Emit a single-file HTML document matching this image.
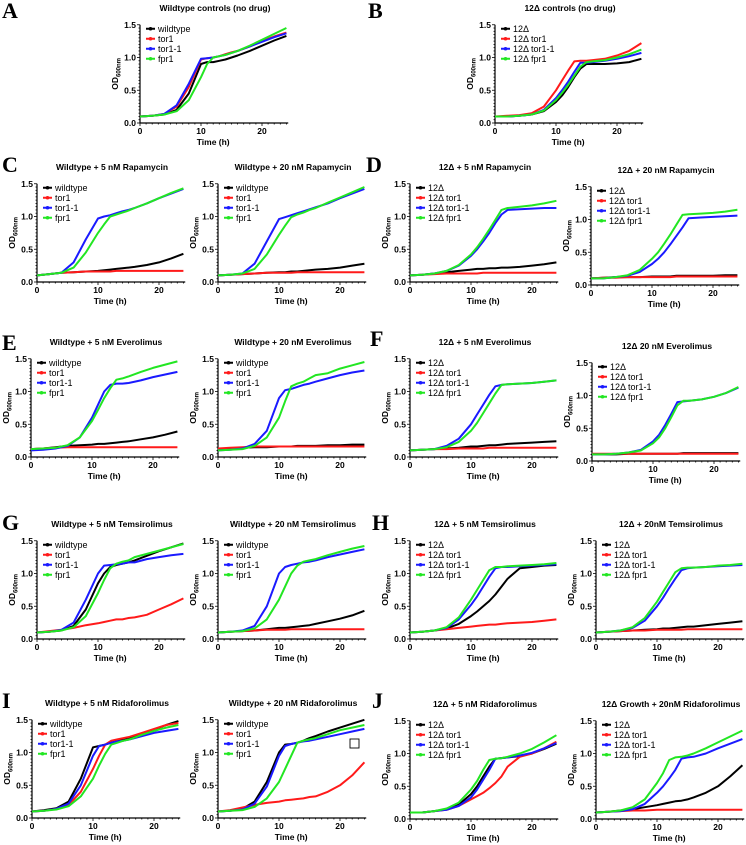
<!DOCTYPE html>
<html><head><meta charset="utf-8"><style>
html,body{margin:0;padding:0;background:#fff;}
svg{display:block;font-family:"Liberation Sans","DejaVu Sans",sans-serif;}
</style></head><body>
<svg id="fig" width="746" height="845" viewBox="0 0 746 845"></svg>
<script>
const times = [0,2,4,6,8,10,11,12,13,14,15,16,18,20,22,24];
const wtLabels = ["wildtype","tor1","tor1-1","fpr1"];
const dLabels = ["12Δ","12Δ tor1","12Δ tor1-1","12Δ fpr1"];
const yTicks = [0,0.5,1.0,1.5];
const yTickLabels = ["0.0","0.5","1.0","1.5"];
const xTicks = [0,10,20];

const aBlack=[0.1,0.11,0.13,0.2,0.45,0.9,0.93,0.93,0.95,0.97,1.0,1.03,1.1,1.18,1.26,1.33];
const aRed=[0.1,0.11,0.14,0.25,0.55,0.97,0.99,1.0,1.02,1.05,1.08,1.1,1.17,1.25,1.32,1.38];
const aBlue=[0.1,0.11,0.14,0.27,0.6,0.98,0.99,1.0,1.02,1.04,1.07,1.1,1.17,1.24,1.31,1.37];
const aGreen=[0.1,0.11,0.13,0.18,0.35,0.7,0.9,1.0,1.02,1.04,1.07,1.1,1.18,1.27,1.36,1.45];
const bBlack=[0.1,0.1,0.11,0.13,0.18,0.32,0.42,0.55,0.7,0.83,0.9,0.9,0.9,0.91,0.93,0.98];
const bRed=[0.1,0.11,0.12,0.15,0.25,0.5,0.65,0.8,0.94,0.95,0.95,0.96,0.98,1.03,1.1,1.22];
const bBlue=[0.1,0.1,0.11,0.13,0.2,0.38,0.5,0.63,0.78,0.92,0.92,0.93,0.95,0.98,1.02,1.07];
const bGreen=[0.1,0.1,0.11,0.13,0.19,0.35,0.46,0.58,0.72,0.86,0.93,0.94,0.96,1.0,1.05,1.12];
const c1Black=[0.1,0.12,0.14,0.15,0.16,0.17,0.18,0.19,0.2,0.21,0.22,0.23,0.26,0.3,0.36,0.43];
const c1Red=[0.1,0.12,0.14,0.15,0.16,0.16,0.16,0.16,0.17,0.17,0.17,0.17,0.17,0.17,0.17,0.17];
const c1Blue=[0.1,0.12,0.14,0.3,0.65,0.97,1.0,1.02,1.05,1.08,1.1,1.13,1.2,1.28,1.35,1.42];
const c1Green=[0.1,0.12,0.14,0.22,0.45,0.75,0.88,1.0,1.03,1.06,1.09,1.13,1.2,1.28,1.36,1.43];
const c2Black=[0.1,0.11,0.12,0.13,0.14,0.15,0.15,0.16,0.16,0.17,0.18,0.19,0.2,0.22,0.25,0.28];
const c2Red=[0.1,0.11,0.12,0.13,0.14,0.14,0.14,0.14,0.15,0.15,0.15,0.15,0.15,0.15,0.15,0.15];
const c2Blue=[0.1,0.11,0.13,0.28,0.62,0.96,0.99,1.02,1.05,1.08,1.11,1.14,1.2,1.28,1.35,1.42];
const c2Green=[0.1,0.11,0.13,0.2,0.42,0.72,0.86,0.99,1.03,1.06,1.1,1.13,1.21,1.29,1.37,1.45];
const d1Black=[0.1,0.11,0.13,0.15,0.17,0.19,0.2,0.2,0.21,0.21,0.22,0.22,0.23,0.25,0.27,0.3];
const d1Red=[0.1,0.11,0.12,0.13,0.13,0.13,0.13,0.14,0.14,0.14,0.14,0.14,0.14,0.14,0.14,0.14];
const d1Blue=[0.1,0.11,0.13,0.17,0.25,0.4,0.5,0.62,0.75,0.9,1.03,1.1,1.11,1.12,1.13,1.13];
const d1Green=[0.1,0.11,0.13,0.17,0.26,0.42,0.53,0.66,0.8,0.95,1.1,1.13,1.15,1.17,1.2,1.24];
const d2Black=[0.1,0.11,0.12,0.12,0.12,0.13,0.13,0.13,0.13,0.14,0.14,0.14,0.14,0.14,0.15,0.15];
const d2Red=[0.1,0.11,0.11,0.12,0.12,0.12,0.12,0.12,0.12,0.13,0.13,0.13,0.13,0.13,0.13,0.13];
const d2Blue=[0.1,0.1,0.12,0.14,0.2,0.32,0.4,0.5,0.62,0.75,0.88,1.02,1.03,1.04,1.05,1.06];
const d2Green=[0.1,0.1,0.12,0.15,0.23,0.4,0.5,0.63,0.77,0.92,1.07,1.08,1.09,1.1,1.12,1.15];
const e1Black=[0.12,0.13,0.15,0.17,0.18,0.19,0.2,0.2,0.21,0.22,0.23,0.24,0.27,0.3,0.34,0.39];
const e1Red=[0.12,0.13,0.14,0.15,0.15,0.15,0.15,0.15,0.15,0.15,0.15,0.15,0.15,0.15,0.15,0.15];
const e1Blue=[0.1,0.11,0.13,0.17,0.3,0.6,0.8,1.0,1.1,1.12,1.12,1.13,1.17,1.22,1.26,1.3];
const e1Green=[0.12,0.13,0.14,0.18,0.3,0.55,0.72,0.9,1.05,1.18,1.2,1.23,1.3,1.36,1.41,1.46];
const e2Black=[0.12,0.13,0.14,0.15,0.15,0.16,0.16,0.16,0.17,0.17,0.17,0.17,0.18,0.18,0.19,0.19];
const e2Red=[0.13,0.14,0.15,0.16,0.16,0.16,0.16,0.16,0.16,0.16,0.16,0.16,0.16,0.16,0.16,0.16];
const e2Blue=[0.1,0.11,0.13,0.2,0.4,0.9,1.02,1.04,1.07,1.1,1.12,1.15,1.2,1.25,1.29,1.32];
const e2Green=[0.1,0.11,0.12,0.17,0.3,0.6,0.85,1.08,1.12,1.15,1.2,1.25,1.28,1.35,1.4,1.45];
const f1Black=[0.1,0.11,0.12,0.13,0.14,0.16,0.16,0.17,0.18,0.18,0.19,0.2,0.21,0.22,0.23,0.24];
const f1Red=[0.1,0.11,0.12,0.12,0.13,0.13,0.13,0.13,0.14,0.14,0.14,0.14,0.14,0.14,0.14,0.14];
const f1Blue=[0.1,0.11,0.12,0.17,0.28,0.5,0.65,0.8,0.95,1.08,1.1,1.11,1.12,1.13,1.15,1.17];
const f1Green=[0.1,0.11,0.12,0.15,0.23,0.4,0.52,0.67,0.82,0.97,1.1,1.11,1.12,1.13,1.15,1.17];
const f2Black=[0.1,0.1,0.1,0.11,0.11,0.11,0.11,0.11,0.11,0.11,0.12,0.12,0.12,0.12,0.12,0.12];
const f2Red=[0.11,0.11,0.11,0.11,0.11,0.11,0.11,0.11,0.11,0.11,0.11,0.11,0.11,0.11,0.11,0.11];
const f2Blue=[0.1,0.1,0.11,0.13,0.17,0.3,0.4,0.55,0.72,0.9,0.91,0.92,0.94,0.98,1.04,1.12];
const f2Green=[0.1,0.1,0.11,0.13,0.16,0.27,0.36,0.5,0.67,0.85,0.92,0.92,0.94,0.98,1.04,1.13];
const g1Black=[0.1,0.11,0.13,0.2,0.45,0.85,1.0,1.1,1.13,1.15,1.17,1.2,1.27,1.34,1.4,1.46];
const g1Red=[0.1,0.12,0.14,0.17,0.21,0.24,0.26,0.28,0.3,0.3,0.32,0.33,0.37,0.45,0.53,0.62];
const g1Blue=[0.1,0.11,0.14,0.25,0.6,1.0,1.12,1.13,1.14,1.15,1.17,1.17,1.22,1.25,1.28,1.3];
const g1Green=[0.1,0.11,0.13,0.18,0.35,0.7,0.9,1.08,1.15,1.18,1.2,1.25,1.3,1.35,1.4,1.45];
const g2Black=[0.1,0.11,0.12,0.13,0.15,0.17,0.17,0.18,0.19,0.2,0.21,0.23,0.27,0.31,0.36,0.43];
const g2Red=[0.1,0.11,0.12,0.13,0.14,0.14,0.14,0.15,0.15,0.15,0.15,0.15,0.15,0.15,0.15,0.15];
const g2Blue=[0.1,0.11,0.13,0.2,0.5,1.0,1.1,1.13,1.15,1.17,1.18,1.2,1.25,1.29,1.33,1.37];
const g2Green=[0.1,0.11,0.12,0.16,0.3,0.6,0.8,1.0,1.12,1.18,1.2,1.22,1.28,1.33,1.38,1.42];
const h1Black=[0.1,0.11,0.13,0.16,0.23,0.35,0.42,0.5,0.58,0.68,0.8,0.92,1.08,1.1,1.12,1.13];
const h1Red=[0.1,0.11,0.13,0.15,0.17,0.19,0.2,0.21,0.22,0.22,0.23,0.24,0.25,0.26,0.28,0.3];
const h1Blue=[0.1,0.11,0.13,0.17,0.3,0.52,0.65,0.8,0.95,1.08,1.1,1.1,1.11,1.12,1.13,1.14];
const h1Green=[0.1,0.11,0.13,0.18,0.33,0.6,0.75,0.9,1.05,1.1,1.1,1.11,1.12,1.13,1.14,1.16];
const h2Black=[0.1,0.11,0.12,0.13,0.14,0.15,0.16,0.16,0.17,0.18,0.19,0.19,0.21,0.23,0.25,0.27];
const h2Red=[0.1,0.11,0.12,0.13,0.13,0.14,0.14,0.14,0.14,0.14,0.15,0.15,0.15,0.15,0.15,0.15];
const h2Blue=[0.1,0.11,0.13,0.17,0.28,0.5,0.63,0.78,0.92,1.05,1.08,1.09,1.1,1.11,1.12,1.13];
const h2Green=[0.1,0.11,0.13,0.18,0.32,0.57,0.72,0.87,1.02,1.08,1.09,1.09,1.1,1.12,1.13,1.15];
const i1Black=[0.1,0.12,0.15,0.25,0.6,1.08,1.1,1.12,1.15,1.18,1.2,1.22,1.28,1.35,1.42,1.48];
const i1Red=[0.1,0.11,0.14,0.2,0.4,0.75,0.95,1.12,1.18,1.2,1.22,1.24,1.3,1.36,1.42,1.45];
const i1Blue=[0.1,0.11,0.14,0.22,0.5,0.95,1.1,1.12,1.15,1.17,1.18,1.2,1.25,1.3,1.33,1.36];
const i1Green=[0.1,0.11,0.13,0.18,0.33,0.6,0.8,0.98,1.12,1.15,1.18,1.2,1.27,1.33,1.38,1.42];
const i2Black=[0.1,0.11,0.14,0.25,0.55,1.0,1.12,1.13,1.15,1.18,1.22,1.25,1.32,1.38,1.44,1.5];
const i2Red=[0.1,0.12,0.16,0.2,0.23,0.25,0.27,0.28,0.29,0.3,0.32,0.33,0.4,0.5,0.65,0.85];
const i2Blue=[0.1,0.11,0.13,0.22,0.48,0.95,1.1,1.13,1.15,1.17,1.18,1.2,1.24,1.28,1.32,1.36];
const i2Green=[0.1,0.11,0.12,0.17,0.3,0.55,0.75,0.95,1.15,1.18,1.2,1.22,1.28,1.34,1.38,1.42];
const j1Black=[0.1,0.1,0.12,0.15,0.22,0.38,0.5,0.65,0.8,0.92,0.93,0.94,0.96,1.0,1.07,1.15];
const j1Red=[0.1,0.1,0.12,0.14,0.2,0.3,0.35,0.4,0.47,0.55,0.65,0.8,0.95,1.0,1.08,1.18];
const j1Blue=[0.1,0.1,0.12,0.14,0.2,0.33,0.45,0.6,0.75,0.92,0.93,0.94,0.97,1.01,1.08,1.16];
const j1Green=[0.1,0.1,0.12,0.16,0.25,0.45,0.58,0.75,0.9,0.92,0.93,0.95,1.0,1.07,1.17,1.28];
const j2Black=[0.1,0.11,0.13,0.15,0.18,0.21,0.23,0.25,0.27,0.28,0.3,0.33,0.4,0.5,0.65,0.82];
const j2Red=[0.1,0.11,0.12,0.13,0.13,0.14,0.14,0.14,0.14,0.14,0.14,0.14,0.14,0.14,0.14,0.14];
const j2Blue=[0.1,0.11,0.12,0.15,0.23,0.4,0.5,0.62,0.75,0.92,0.94,0.95,1.0,1.08,1.15,1.22];
const j2Green=[0.1,0.11,0.13,0.18,0.3,0.55,0.7,0.9,0.94,0.95,0.97,1.0,1.08,1.17,1.26,1.35];

const colors=["#000000","#ff1a1a","#1a1aff","#22e622"];
const NS="http://www.w3.org/2000/svg";
const svg=document.getElementById('fig');
function mk(tag,attrs,parent,text){const e=document.createElementNS(NS,tag);for(const k in attrs)e.setAttribute(k,attrs[k]);if(text!==undefined)e.textContent=text;(parent||svg).appendChild(e);return e;}

const panels=[
 {id:"a",x0:140,y0:123,title:"Wildtype controls (no drug)",labels:wtLabels,s:[aBlack,aRed,aBlue,aGreen]},
 {id:"b",x0:495,y0:123,title:"12Δ controls (no drug)",labels:dLabels,s:[bBlack,bRed,bBlue,bGreen]},
 {id:"c1",x0:37,y0:282,title:"Wildtype + 5 nM Rapamycin",labels:wtLabels,s:[c1Black,c1Red,c1Blue,c1Green]},
 {id:"c2",x0:218,y0:282,title:"Wildtype + 20 nM Rapamycin",labels:wtLabels,s:[c2Black,c2Red,c2Blue,c2Green]},
 {id:"d1",x0:410,y0:282,title:"12Δ + 5 nM Rapamycin",labels:dLabels,s:[d1Black,d1Red,d1Blue,d1Green]},
 {id:"d2",x0:591,y0:285,title:"12Δ + 20 nM Rapamycin",labels:dLabels,s:[d2Black,d2Red,d2Blue,d2Green]},
 {id:"e1",x0:31,y0:457,title:"Wildtype + 5 nM Everolimus",labels:wtLabels,s:[e1Black,e1Red,e1Blue,e1Green]},
 {id:"e2",x0:218,y0:457,title:"Wildtype + 20 nM Everolimus",labels:wtLabels,s:[e2Black,e2Red,e2Blue,e2Green]},
 {id:"f1",x0:410,y0:457,title:"12Δ + 5 nM Everolimus",labels:dLabels,s:[f1Black,f1Red,f1Blue,f1Green]},
 {id:"f2",x0:592,y0:461,title:"12Δ 20 nM Everolimus",labels:dLabels,s:[f2Black,f2Red,f2Blue,f2Green]},
 {id:"g1",x0:37,y0:639,title:"Wildtype + 5 nM Temsirolimus",labels:wtLabels,s:[g1Black,g1Red,g1Blue,g1Green]},
 {id:"g2",x0:218,y0:639,title:"Wildtype + 20 nM Temsirolimus",labels:wtLabels,s:[g2Black,g2Red,g2Blue,g2Green]},
 {id:"h1",x0:410,y0:639,title:"12Δ + 5 nM Temsirolimus",labels:dLabels,s:[h1Black,h1Red,h1Blue,h1Green]},
 {id:"h2",x0:596,y0:639,title:"12Δ + 20nM Temsirolimus",labels:dLabels,s:[h2Black,h2Red,h2Blue,h2Green]},
 {id:"i1",x0:32,y0:818,title:"Wildtype + 5 nM Ridaforolimus",labels:wtLabels,s:[i1Black,i1Red,i1Blue,i1Green]},
 {id:"i2",x0:218,y0:818,title:"Wildtype + 20 nM Ridaforolimus",labels:wtLabels,s:[i2Black,i2Red,i2Blue,i2Green]},
 {id:"j1",x0:410,y0:819,title:"12Δ  + 5 nM Ridaforolimus",labels:dLabels,s:[j1Black,j1Red,j1Blue,j1Green]},
 {id:"j2",x0:596,y0:819,title:"12Δ Growth + 20nM Ridaforolimus",labels:dLabels,s:[j2Black,j2Red,j2Blue,j2Green]}
];
const XS=6.1, YS=65.5;

panels.forEach(p=>{
  const g=mk('g',{});
  
  
  const xs=t=>p.x0+t*XS, ys=v=>p.y0-v*YS;
  const xEnd=xs(24.3), yTop=ys(1.5);
  const t=mk('text',{x:p.x0+75,y:yTop-14,'text-anchor':'middle','font-size':'8.5','font-weight':'bold'},g,p.title);
  
  
  const ax=mk('path',{d:`M${p.x0},${yTop}V${p.y0}H${xEnd}`,stroke:'#000','stroke-width':'1.2',fill:'none'},g);
  
  
  for(let v=0;v<=1.5001;v+=0.05){const y=ys(v);const major=Math.abs(v*2-Math.round(v*2))<1e-6;mk('line',{x1:p.x0-(major?3:1.5),x2:p.x0,y1:y,y2:y,stroke:'#000','stroke-width':'0.8'},g);}
  for(let h=0;h<=24;h++){const x=xs(h);const major=h%10===0;mk('line',{x1:x,x2:x,y1:p.y0,y2:p.y0+(major?3:1.5),stroke:'#000','stroke-width':'0.8'},g);}
  yTicks.forEach((v,i)=>{const tl=mk('text',{x:p.x0-4,y:ys(v)+3,'text-anchor':'end','font-size':'8.5','font-weight':'bold'},g,yTickLabels[i]);
    });
  xTicks.forEach(h=>{const tl=mk('text',{x:xs(h),y:p.y0+11,'text-anchor':'middle','font-size':'8.5','font-weight':'bold'},g,String(h));
    });
  const xt=mk('text',{x:xs(12),y:p.y0+22,'text-anchor':'middle','font-size':'8.5','font-weight':'bold'},g,'Time (h)');
  
  
  const cx=p.x0-22, cy=ys(0.75);
  const yt=mk('text',{x:cx,y:cy,'text-anchor':'middle','font-size':'8.5','font-weight':'bold',transform:`rotate(-90 ${cx} ${cy})`},g);
  
  
  mk('tspan',{},yt,'OD');
  mk('tspan',{'font-size':'6',dy:'2.5'},yt,'600nm');
  p.s.forEach((vals,k)=>{
    const pts=vals.map((v,i)=>xs(times[i]).toFixed(1)+','+ys(v).toFixed(1)).join(' ');
    const pl=mk('polyline',{points:pts,fill:'none',stroke:colors[k],'stroke-width':'2','stroke-linejoin':'round'},g);
    
    
  });
  p.labels.forEach((lab,k)=>{
    const ly=yTop+4+k*10;
    const lg=mk('g',{},g);
    
    
    mk('line',{x1:p.x0+6,x2:p.x0+15,y1:ly,y2:ly,stroke:colors[k],'stroke-width':'2'},lg);
    mk('circle',{cx:p.x0+10.5,cy:ly,r:1.8,fill:colors[k]},lg);
    mk('text',{x:p.x0+18,y:ly+3.2,'font-size':'9'},lg,lab);
  });
});

const letters=[["A",2,18],["B",368,18],["C",2,172],["D",366,172],["E",2,350],["F",370,346],["G",2,530],["H",372,530],["I",2,708],["J",372,708]];
letters.forEach(l=>{
  const t=mk('text',{x:l[1],y:l[2],'font-family':'"Liberation Serif",serif','font-size':'22','font-weight':'bold'},svg,l[0]);
  
  
});
const sq=mk('rect',{x:350,y:739,width:9,height:9,fill:'none',stroke:'#000','stroke-width':'0.9'});


</script>
</body></html>
